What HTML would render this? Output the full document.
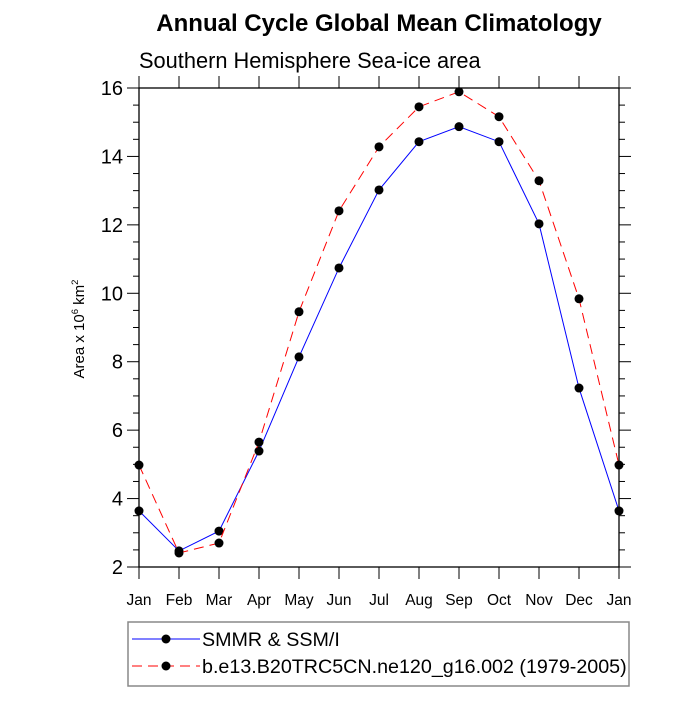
<!DOCTYPE html>
<html><head><meta charset="utf-8"><style>body{margin:0;background:#fff}svg{font-family:"Liberation Sans",sans-serif}</style></head><body>
<svg id="c" width="700" height="700" xmlns="http://www.w3.org/2000/svg">
<text x="379" y="31" font-size="24" font-weight="bold" text-anchor="middle">Annual Cycle Global Mean Climatology</text>
<text x="139" y="68" font-size="21.8">Southern Hemisphere Sea-ice area</text>
<text transform="translate(84,329) rotate(-90)" font-size="15" text-anchor="middle">Area x 10<tspan font-size="9.5" dy="-6">6</tspan><tspan dy="6"> km</tspan><tspan font-size="9.5" dy="-6">2</tspan></text>
<g id="axes"></g><g id="series"></g>
<g>
<rect x="128" y="622" width="501" height="64" fill="none" stroke="#888" stroke-width="1.5"/>
<line x1="132" y1="639" x2="200" y2="639" stroke="#00f"/>
<circle cx="166" cy="639" r="4.5"/>
<text x="202" y="646" font-size="19.7">SMMR &amp; SSM/I</text>
<line x1="132" y1="666" x2="200" y2="666" stroke="#f00" stroke-dasharray="10,6"/>
<circle cx="166" cy="666" r="4.5"/>
<text x="202" y="673" font-size="19.7">b.e13.B20TRC5CN.ne120_g16.002 (1979-2005)</text>
</g>
</svg>
<script>
const months=["Jan","Feb","Mar","Apr","May","Jun","Jul","Aug","Sep","Oct","Nov","Dec","Jan"];
const obsValues=[3.64,2.47,3.05,5.39,8.14,10.74,13.02,14.43,14.87,14.43,12.03,7.23,3.64];
const modelValues=[4.98,2.41,2.70,5.65,9.46,12.41,14.28,15.45,15.89,15.16,13.29,9.84,4.98];
const yTicks=[2,4,6,8,10,12,14,16];
const NS="http://www.w3.org/2000/svg";
const L=139,R=619,T=88,B=567,ymin=2,ymax=16;
const xs=i=>L+(R-L)*i/(months.length-1);
const ys=v=>B-(v-ymin)/(ymax-ymin)*(B-T);
function mk(t,a,p){const e=document.createElementNS(NS,t);for(const k in a)e.setAttribute(k,a[k]);p.appendChild(e);return e;}
const ax=document.getElementById('axes');
let f=mk('rect',{x:L,y:T,width:R-L,height:B-T,fill:'none',stroke:'#000','stroke-width':1.3},ax);


for(let v=ymin;v<=ymax+1e-9;v+=0.5){const maj=Math.abs(v-Math.round(v/2)*2)<1e-9;const len=maj?12:6;const y=ys(v);
 let t1=mk('line',{x1:L-len,y1:y,x2:L,y2:y,stroke:'#000'},ax);
 let t2=mk('line',{x1:R,y1:y,x2:R+len,y2:y,stroke:'#000'},ax);}
yTicks.forEach(v=>{let t=mk('text',{x:L-16,y:ys(v)+7,'font-size':20,'text-anchor':'end'},ax);t.textContent=v;});
months.forEach((m,i)=>{const x=xs(i);
 let a=mk('line',{x1:x,y1:B,x2:x,y2:B+12,stroke:'#000'},ax);
 let b=mk('line',{x1:x,y1:T-12,x2:x,y2:T,stroke:'#000'},ax);
 let t=mk('text',{x:x,y:B+38,'font-size':15.5,'text-anchor':'middle'},ax);t.textContent=m;});
const sg=document.getElementById('series');
function series(vals,col,dash,name){
 let p=mk('polyline',{points:vals.map((v,i)=>xs(i)+','+ys(v)).join(' '),fill:'none',stroke:col,'stroke-width':1,'stroke-dasharray':dash},sg);
 
 vals.forEach((v,i)=>{let c=mk('circle',{cx:xs(i),cy:ys(v),r:4.5,fill:'#000'},sg);});}
series(obsValues,'#00f','none','smmr');
series(modelValues,'#f00','10,6','model');
</script>
</body></html>
